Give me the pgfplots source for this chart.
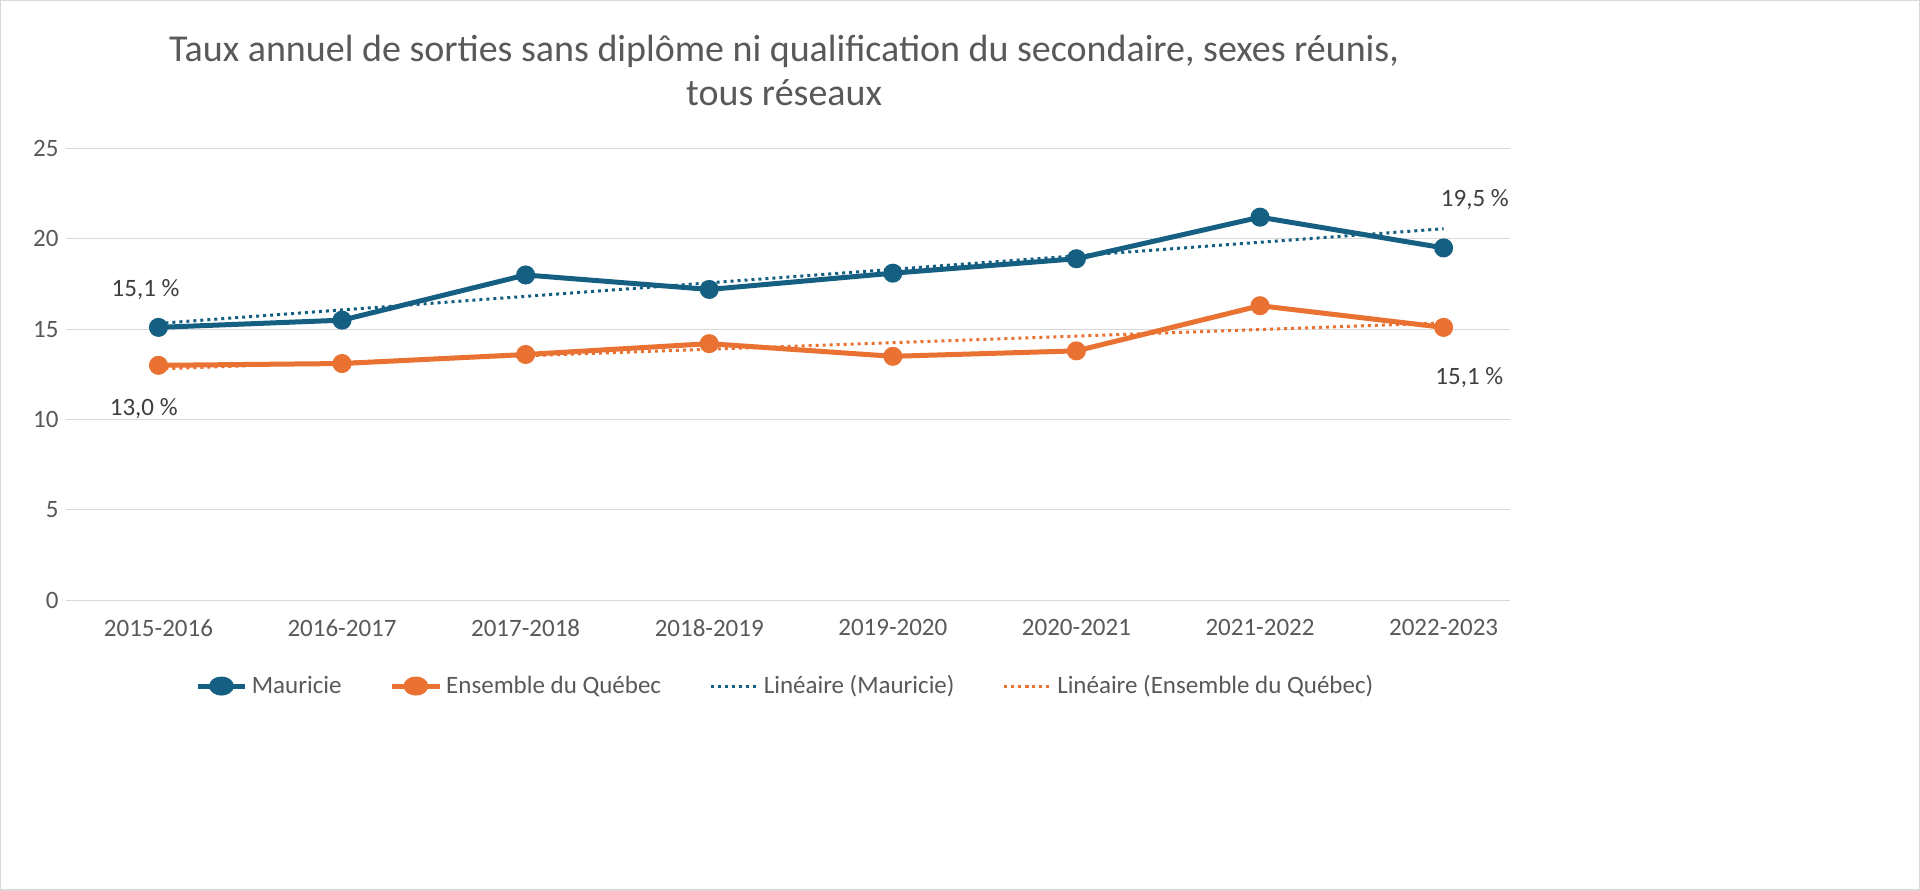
\documentclass[border=0pt]{standalone}
\usepackage{pgfplots}
\pgfplotsset{compat=1.18}
\usepackage{fontspec}
\setmainfont{Carlito}
\definecolor{cblue}{HTML}{156082}
\definecolor{corange}{HTML}{E97132}
\definecolor{ctext}{HTML}{595959}
\definecolor{cgrid}{HTML}{D9D9D9}
\begin{document}
\begin{tikzpicture}
\draw[draw=cgrid,line width=0.6pt,fill=white] (0,0) rectangle (960pt,445pt);
\node[text=ctext,font=\fontsize{19}{22}\selectfont,align=center] at (392pt,410pt) {Taux annuel de sorties sans diplôme ni qualification du secondaire, sexes réunis,\\tous réseaux};
\begin{axis}[at={(32.5pt,145pt)},anchor=south west,scale only axis,
 width=722.5pt,height=226pt,xmin=-0.506,xmax=7.36,ymin=0,ymax=25,
 ytick={0,5,10,15,20,25},xtick={0,...,7},
 xticklabels={2015-2016,2016-2017,2017-2018,2018-2019,2019-2020,2020-2021,2021-2022,2022-2023},
 ymajorgrids,grid style={cgrid,line width=0.6pt},
 axis line style={draw=none},axis x line*=bottom,x axis line style={draw=cgrid,line width=0.6pt},
 major tick length=0pt,
 tick label style={text=ctext,font=\fontsize{12.5}{14}\selectfont},
 /pgf/number format/assume math mode=true,
 xticklabel style={yshift=-6pt},
 legend style={at={(0.499,-0.19)},anchor=center,draw=none,legend columns=4,
   font=\fontsize{12.5}{14}\selectfont,text=ctext,
   /tikz/every even column/.append style={column sep=22pt}},
 legend image post style={xscale=1.4},
 clip=false]
\addplot[cblue,line width=2.5pt,mark=*,mark size=3.5pt,mark options={scale=1}] coordinates {(0,15.1)(1,15.5)(2,18.0)(3,17.2)(4,18.1)(5,18.9)(6,21.2)(7,19.5)};
\addlegendentry{Mauricie}
\addplot[corange,line width=2.5pt,mark=*,mark size=3.5pt] coordinates {(0,13.0)(1,13.1)(2,13.6)(3,14.2)(4,13.5)(5,13.8)(6,16.3)(7,15.1)};
\addlegendentry{Ensemble du Québec}
\addplot[cblue,line width=1.5pt,dotted] coordinates {(0,15.32)(7,20.56)};
\addlegendentry{Linéaire (Mauricie)}
\addplot[corange,line width=1.5pt,dotted] coordinates {(0,12.80)(7,15.35)};
\addlegendentry{Linéaire (Ensemble du Québec)}
\node[text=ctext!70!black,font=\fontsize{12.5}{14}\selectfont] at (axis cs:-0.07,17.2) {15,1 \%};
\node[text=ctext!70!black,font=\fontsize{12.5}{14}\selectfont] at (axis cs:-0.08,10.6) {13,0 \%};
\node[text=ctext!70!black,font=\fontsize{12.5}{14}\selectfont] at (axis cs:7.17,22.2) {19,5 \%};
\node[text=ctext!70!black,font=\fontsize{12.5}{14}\selectfont] at (axis cs:7.14,12.3) {15,1 \%};
\end{axis}
\end{tikzpicture}
\end{document}
